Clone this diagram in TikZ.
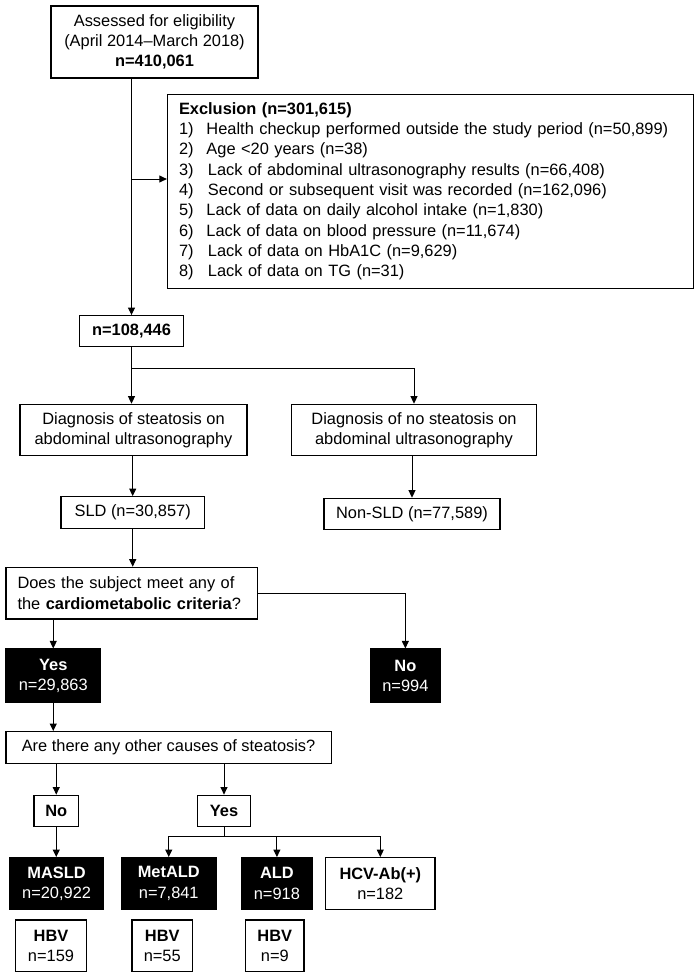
\documentclass[tikz,border=0pt]{standalone}
\usepackage{fontspec}
\setmainfont{Liberation Sans}
\usetikzlibrary{arrows.meta}
\newcommand{\fsz}{\fontsize{16.4pt}{20.3pt}\selectfont}

\begin{document}
\begin{tikzpicture}[x=1pt,y=-1pt,line width=1pt,>={Triangle[length=7.5pt,width=7pt]},
  box/.style={draw,line width=1.3pt,inner sep=0pt,align=center,font=\fsz},
  dark/.style={box,fill=black,text=white}]
\useasboundingbox (0,0) rectangle (697,978);
% 纳入评估与排除
\node[box,minimum width=207pt,minimum height=72pt] (assess) at (154.5,42)
  {Assessed for eligibility\\(April 2014--March 2018)\\\textbf{n=410,061}};
\node[box,minimum height=194pt,text width=503pt,inner xsep=11.5pt,align=left] (excl) at (430.5,191.2)
  {\textbf{Exclusion (n=301,615)}\\
   \makebox[27.5pt][l]{1)}Health checkup performed outside the study period (n=50,899)\\
   \makebox[27.5pt][l]{2)}Age <20 years (n=38)\\
   \makebox[29pt][l]{3)}Lack of abdominal ultrasonography results (n=66,408)\\
   \makebox[29pt][l]{4)}Second or subsequent visit was recorded (n=162,096)\\
   \makebox[27.5pt][l]{5)}Lack of data on daily alcohol intake (n=1,830)\\
   \makebox[27.5pt][l]{6)}Lack of data on blood pressure (n=11,674)\\
   \makebox[29pt][l]{7)}Lack of data on HbA1C (n=9,629)\\
   \makebox[29pt][l]{8)}Lack of data on TG (n=31)};
\node[box,minimum width=103.7pt,minimum height=31pt] (n108) at (131.5,331.2) {\textbf{n=108,446}};
\draw[->] (n108 |- assess.south) -- (n108.north);
\draw[->] (n108 |- 0,179) -- (excl.west |- 0,179);
% 超声诊断
\node[box,minimum width=227pt,minimum height=51.4pt] (diagL) at (133.5,430)
  {Diagnosis of steatosis on\\abdominal ultrasonography};
\node[box,minimum width=244.5pt,minimum height=51.4pt] (diagR) at (414,430)
  {Diagnosis of no steatosis on\\abdominal ultrasonography};
\coordinate (fork1) at (n108.south |- 0,368.3);
\draw (n108.south) -- (fork1);
\draw[->] (fork1) -- (fork1 |- diagL.north);
\draw[->] (fork1) -| (diagR.north);
\node[box,minimum width=143.4pt,minimum height=31.6pt] (sld) at (132.7,512.5) {SLD (n=30,857)};
\node[box,minimum width=176pt,minimum height=31pt] (nonsld) at (412,513.8) {Non-SLD (n=77,589)};
\draw[->] (sld |- diagL.south) -- (sld.north);
\draw[->] (nonsld |- diagR.south) -- (nonsld.north);
% 心代谢标准
\node[box,minimum height=51.7pt,text width=228.4pt,inner xsep=11.6pt,align=left] (crit) at (131.7,593.2)
  {Does the subject meet any of\\the \textbf{cardiometabolic criteria}?};
\draw[->] (sld.south) -- (sld.south |- crit.north);
\node[dark,minimum width=94.7pt,minimum height=53.3pt] (yes1) at (53.25,675.7) {\textbf{Yes}\\n=29,863};
\node[dark,minimum width=70pt,minimum height=53.3pt] (no1) at (405.35,675.7) {\textbf{No}\\n=994};
\draw[->] (yes1 |- crit.south) -- (yes1.north);
\draw[->] (crit.east) -| (no1.north);
% 其他病因
\node[box,minimum width=325.3pt,minimum height=31.6pt] (other) at (168.55,747.5)
  {Are there any other causes of steatosis?};
\draw[->] (yes1.south) -- (yes1.south |- other.north);
\node[box,minimum width=44.7pt,minimum height=31.5pt] (no2) at (56.25,811) {\textbf{No}};
\node[box,minimum width=53.1pt,minimum height=31.5pt] (yes2) at (224,811) {\textbf{Yes}};
\draw[->] (no2 |- other.south) -- (no2.north);
\draw[->] (yes2 |- other.south) -- (yes2.north);
% 分类结果
\node[dark,minimum width=94.4pt,minimum height=51.6pt] (masld) at (56.6,883.5) {\textbf{MASLD}\\n=20,922};
\node[dark,minimum width=94.3pt,minimum height=51.6pt] (metald) at (168.75,883.5) {\textbf{MetALD}\\n=7,841};
\node[dark,minimum width=70.2pt,minimum height=51.6pt] (ald) at (276.9,883.5) {\textbf{ALD}\\n=918};
\node[box,minimum width=109.4pt,minimum height=51.6pt] (hcv) at (380.3,883.5) {\textbf{HCV-Ab(+)}\\n=182};
\draw[->] (no2.south) -- (no2.south |- masld.north);
\coordinate (fork2) at (yes2.south |- 0,836);
\draw (yes2.south) -- (fork2);
\draw (metald |- fork2) -- (hcv |- fork2);
\foreach \nd in {metald,ald,hcv}
  \draw[->] (\nd |- fork2) -- (\nd.north);
% HBV
\node[box,minimum width=70.6pt,minimum height=51.7pt] (hbvA) at (51,945.85) {\textbf{HBV}\\n=159};
\node[box,minimum width=60.5pt,minimum height=51.7pt] (hbvB) at (162.25,945.85) {\textbf{HBV}\\n=55};
\node[box,minimum width=58.4pt,minimum height=51.7pt] (hbvC) at (274.8,945.85) {\textbf{HBV}\\n=9};
\end{tikzpicture}
\end{document}
